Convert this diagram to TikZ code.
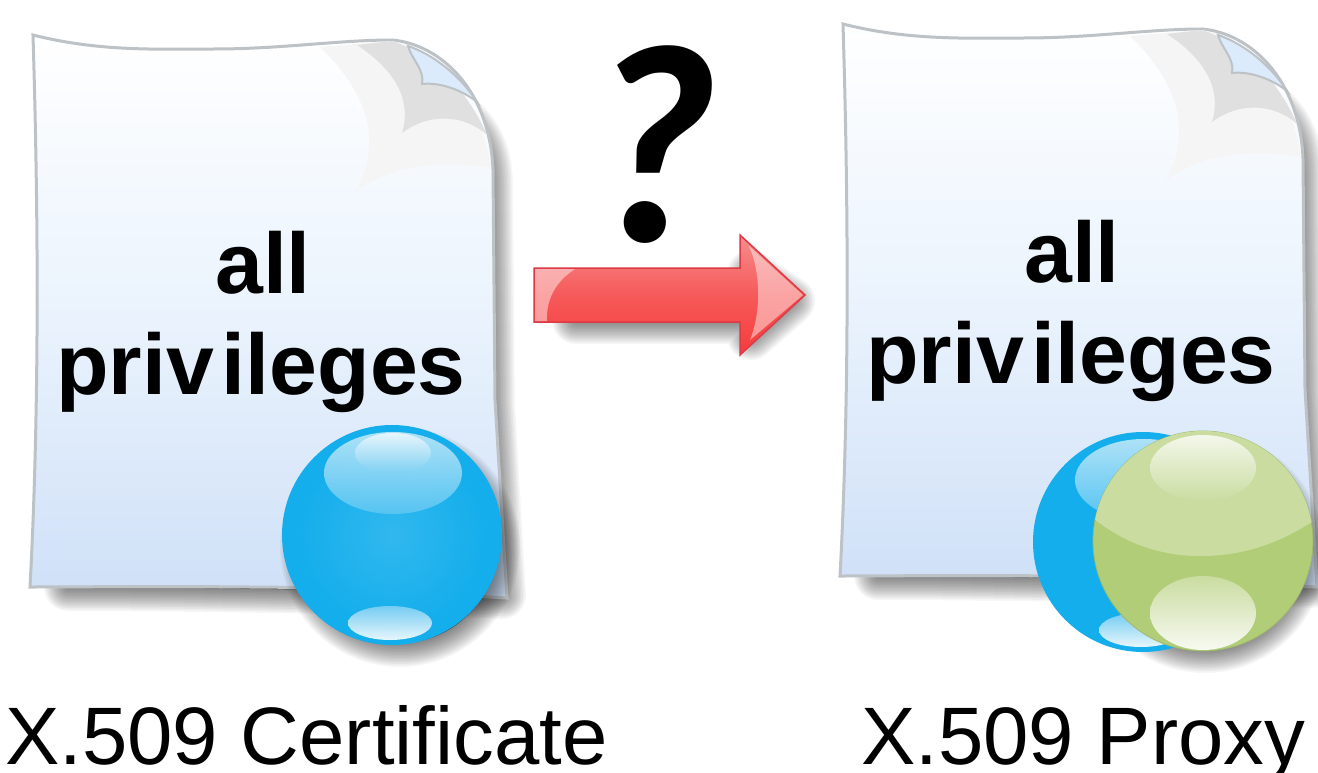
\documentclass[tikz,border=0pt]{standalone}
\usepackage{fontspec}
\setmainfont{Liberation Sans}
\newfontfamily\qfont{Carlito}
\definecolor{pagetop}{HTML}{FFFFFF}
\definecolor{pagemid}{HTML}{EAF3FD}
\definecolor{pagebot}{HTML}{CFE0F7}
\definecolor{pageline}{HTML}{BDC2C6}
\definecolor{curltip}{HTML}{DCEBFB}
\definecolor{ballblue}{HTML}{14AEEC}
\definecolor{glossblue}{HTML}{7FD0F3}
\definecolor{ballgreen}{HTML}{B1CD78}
\definecolor{glossgreen}{HTML}{CADCA0}
\definecolor{arrowred}{HTML}{F53C3C}
\definecolor{arrowpale}{HTML}{F58E8E}
\definecolor{arrowline}{HTML}{DD3A45}
\tikzset{
  boldtxt/.style={font=\fontsize{86}{86}\bfseries\selectfont,text=black,anchor=base,inner sep=0pt},
  captxt/.style={font=\fontsize{81.5}{82}\selectfont,text=black,anchor=base west,inner sep=0pt},
  softshadow/.style={fill=black,draw=black,line join=round,opacity=0.035},
}
% soft shadow: stacked translucent outlines
\newcommand{\softblur}[1]{%
  \foreach \w in {48,45,...,3}{\path[softshadow,line width=\w pt] #1;}}
\newcommand{\pagepath}{(33,35) .. controls (100,52) and (160,49) .. (215,49)
   .. controls (280,49) and (340,40) .. (392,40)
   .. controls (440,44) and (490,90) .. (493,170)
   -- (495,400) -- (507,598)
   .. controls (400,592) and (320,587) .. (250,587)
   .. controls (150,586) and (80,587) .. (30,587)
   .. controls (40,400) and (38,200) .. (33,35) -- cycle}
\newcommand{\docpage}{%
  \begin{scope}[shift={(3,5)}]\softblur{(70,90) .. controls (200,90) and (380,80) .. (430,95) .. controls (470,115) and (486,140) .. (486,180) -- (488,400) -- (499,590) .. controls (400,586) and (200,582) .. (65,582) -- cycle}\end{scope}
  \path[draw=pageline,line width=3pt,top color=pagetop,bottom color=pagebot,middle color=pagemid] \pagepath;
  % soft curl shadow
  \fill[black!4] (320,47) .. controls (365,90) and (385,140) .. (355,192)
     .. controls (390,165) and (440,160) .. (491,168) .. controls (480,100) and (440,50) .. (392,41) -- cycle;
  \fill[black!12] (357,45) .. controls (395,70) and (412,100) .. (402,133)
     .. controls (430,112) and (465,115) .. (487,135) .. controls (470,95) and (435,55) .. (392,41) -- cycle;
  \path[fill=curltip,draw=pageline,line width=2pt] (408,46) .. controls (412,60) and (425,70) .. (422,84)
     .. controls (440,82) and (462,90) .. (477,102) .. controls (462,78) and (435,55) .. (408,46) -- cycle;
}
\begin{document}
\begin{tikzpicture}[x=1pt,y=-1pt]
\useasboundingbox (0,0) rectangle (1318,773);
\fill[white] (0,0) rectangle (1318,773);
% ---- left document
\docpage
\node[boldtxt] (allL) at (263,293) {all};
\node[boldtxt] (privL) at (261,394) {priv\kern8pt ileges};
\softblur{(400,547) circle[radius=96]}
\path[fill=ballblue] (392,535) circle[radius=110];
\shade[inner color=ballblue!75!white,outer color=ballblue,opacity=.5] (392,535) circle[radius=95];
\path[top color=glossblue!50!white,bottom color=ballblue!70!white,opacity=.9] (393,473) ellipse[x radius=69,y radius=41];
\path[top color=white,bottom color=glossblue,opacity=.7] (393,453) ellipse[x radius=38,y radius=20];
\path[top color=glossblue,bottom color=white,opacity=.9] (390,623) ellipse[x radius=42,y radius=17];
% ---- right document
\begin{scope}[shift={(810,-11)}]\docpage\end{scope}
\node[boldtxt] (allR) at (1072,282) {all};
\node[boldtxt] (privR) at (1071,383) {priv\kern8pt ileges};
\softblur{(1205,553) circle[radius=96]}
\path[fill=ballblue] (1143,542) circle[radius=110];
\path[top color=glossblue!50!white,bottom color=ballblue!70!white,opacity=.9] (1144,480) ellipse[x radius=69,y radius=41];
\path[top color=glossblue,bottom color=white,opacity=.9] (1141,630) ellipse[x radius=42,y radius=17];
\path[fill=ballgreen,draw=ballgreen!90!black,line width=.8pt] (1203,541) circle[radius=110];
\begin{scope}
  \clip (1203,541) circle[radius=110];
  \fill[glossgreen] (1085,400) rectangle (1320,518)
     (1085,518) -- (1093,518) .. controls (1130,548) and (1170,557) .. (1205,556)
     .. controls (1250,555) and (1285,540) .. (1318,518) -- cycle;
\end{scope}
\path[top color=white!85!ballgreen,bottom color=glossgreen] (1203,468) ellipse[x radius=53,y radius=33];
\path[top color=glossgreen,bottom color=white!90!ballgreen] (1203,613) ellipse[x radius=53,y radius=37];
% ---- arrow
\newcommand{\arrowpath}{(534,268) -- (740,268) -- (740,235) -- (805,295) -- (740,355) -- (740,322) -- (534,322) -- cycle}
\begin{scope}[shift={(6,6)}]\softblur{(570,290) -- (745,290) -- (745,268) -- (785,295) -- (745,330) -- (745,314) -- (570,314) -- cycle}\end{scope}
\path[top color=arrowpale,bottom color=arrowred,draw=arrowline,line width=1.5pt,line join=miter,middle color=arrowred!85!white] \arrowpath;
\fill[white,opacity=.45] (535,269) -- (575,269) .. controls (555,282) and (546,300) .. (547,321) -- (535,321) -- cycle;
\fill[white,opacity=.45] (749,246) .. controls (760,270) and (762,310) .. (750,340) -- (803,295) -- cycle;
% ---- question mark
\node[inner sep=0pt,anchor=base,font=\qfont\fontsize{284}{284}\bfseries\itshape\selectfont,text=black] (qm) at (652,241) {?};
% ---- captions
\node[captxt] (capL) at (5,764) {X.509 Certificate};
\node[captxt] (capR) at (861,764) {X.509 Proxy};
\end{tikzpicture}
\end{document}
